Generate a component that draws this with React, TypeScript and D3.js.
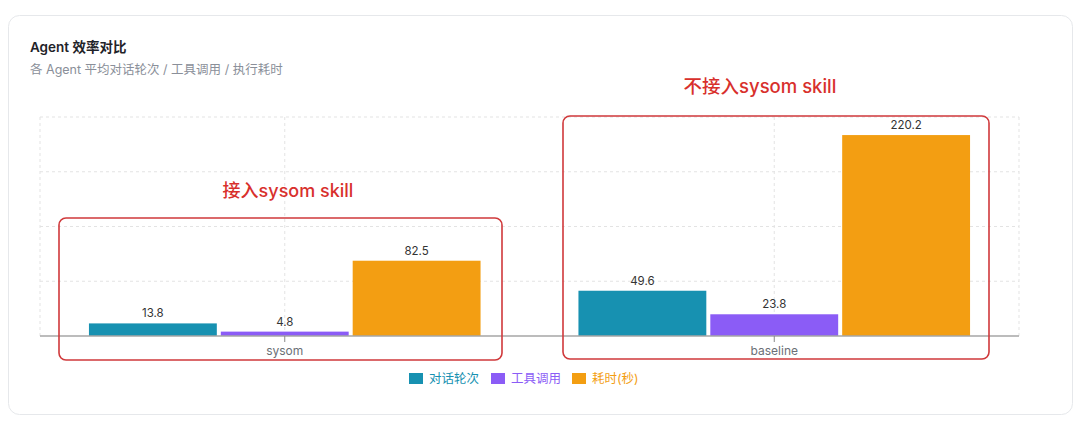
import React from "react";
import * as d3 from "d3";

const categories = ["sysom", "baseline"];
const seriesNames = ["对话轮次", "工具调用", "耗时(秒)"];
const seriesColors = ["#1791b1", "#8b5cf6", "#f39e12"];
const turnsValues = [13.8, 49.6];
const toolValues = [4.8, 23.8];
const timeValues = [82.5, 220.2];
const yTicks = [0, 60, 120, 180, 240];
const annotations = ["接入sysom skill", "不接入sysom skill"];

const W = 1080;
const H = 425;
const FONT = "Inter, 'Noto Sans CJK SC', sans-serif";

export default function App() {
  const left = 40, right = 1019, top = 117, bottom = 336;
  const band = d3.scaleBand<string>().domain(categories).range([left, right]);
  const y = d3.scaleLinear().domain([0, 240]).range([bottom, top]);
  const series = [turnsValues, toolValues, timeValues];
  const gap = 4;
  const groupStart = (c: string) => band(c)! + band.bandwidth() * 0.1;
  const groupW = band.bandwidth() * 0.8;
  const barW = (groupW - gap * 2) / 3;

  const boxes = [
    { x: 59, y: 218, w: 443, h: 142, tx: 288, ty: 197, fs: 18 },
    { x: 563, y: 116, w: 426, h: 243, tx: 760, ty: 93, fs: 18.5 },
  ];

  return (
    <svg width={W} height={H} style={{ position: "absolute", left: 0, top: 0, display: "block", background: "#fff" }} fontFamily={FONT}>
      <rect x={8.5} y={15.5} width={1064} height={399} rx={11} fill="#fff" stroke="#e6e8eb" />
      <text x={30} y={52} fontSize={13.5} fontWeight={600} fill="#1f2329">Agent 效率对比</text>
      <text x={30} y={74} fontSize={12.5} fill="#8a8f99">各 Agent 平均对话轮次 / 工具调用 / 执行耗时</text>

      {yTicks.slice(1).map((t) => (
        <line key={"g" + t} x1={left} x2={right} y1={y(t)} y2={y(t)} stroke="#e3e3e3" strokeDasharray="3 3" />
      ))}
      {[left, ...categories.map((c) => band(c)! + band.bandwidth() / 2), right].map((xv, i) => (
        <line key={"v" + i} x1={xv} x2={xv} y1={top} y2={bottom} stroke="#e3e3e3" strokeDasharray="3 3" />
      ))}

      {categories.map((c, ci) => (
        <g key={c}>
          {series.map((vals, si) => {
            const bx = groupStart(c) + si * (barW + gap);
            const v = vals[ci];
            return (
              <g key={si}>
                <rect x={bx} y={y(v)} width={barW} height={y(0) - y(v)} fill={seriesColors[si]} />
                <text x={bx + barW / 2} y={y(v) - 6} textAnchor="middle" fontSize={11.5} fill="#333">{v.toFixed(1)}</text>
              </g>
            );
          })}
        </g>
      ))}

      <line x1={left} x2={right} y1={bottom} y2={bottom} stroke="#a6a6a6" strokeWidth={1.5} />
      {categories.map((c) => {
        const cx = band(c)! + band.bandwidth() / 2;
        return (
          <g key={"t" + c}>
            <line x1={cx} x2={cx} y1={bottom} y2={bottom + 6} stroke="#888" />
            <text x={cx} y={bottom + 19} textAnchor="middle" fontSize={12} fill="#6b6f76">{c}</text>
          </g>
        );
      })}

      {(() => {
        const starts = [409, 491, 572];
        return seriesNames.map((n, i) => (
          <g key={n}>
            <rect x={starts[i]} y={373} width={14} height={11} fill={seriesColors[i]} />
            <text x={starts[i] + 20} y={383} fontSize={12.5} fill={seriesColors[i]}>{n}</text>
          </g>
        ));
      })()}

      {boxes.map((b, i) => (
        <g key={"a" + i}>
          <rect x={b.x} y={b.y} width={b.w} height={b.h} rx={7} fill="none" stroke="#d0393b" strokeWidth={1.6} />
          <text x={b.tx} y={b.ty} textAnchor="middle" fontSize={b.fs} fontWeight={500} fill="#d8302c">{annotations[i]}</text>
        </g>
      ))}
    </svg>
  );
}
